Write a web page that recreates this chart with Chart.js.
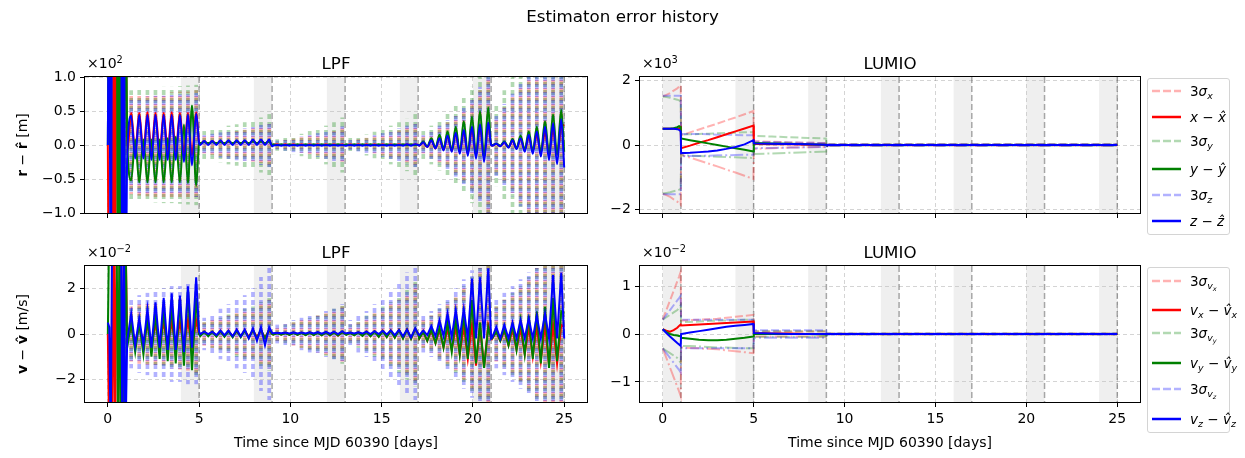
<!DOCTYPE html>
<html>
<head>
<meta charset="utf-8">
<script src="https://cdn.jsdelivr.net/npm/chart.js@4.4.1/dist/chart.umd.min.js"></script>
<style>
  body { margin: 0; width: 1245px; height: 458px; background: #fff; position: relative; overflow: hidden;
         font-family: 'DejaVu Sans', sans-serif; color: #000; }
  canvas { position: absolute; left: 0; top: 0; }
  .t { position: absolute; white-space: nowrap; z-index: 5; }
  .ttl { font-size: 16.7px; line-height: 20px; text-align: center; }
  .lab { font-size: 14px; line-height: 16px; text-align: center; }
  .off { font-size: 14px; line-height: 16px; }
  .off sup { font-size: 70%; vertical-align: 0.5em; line-height: 0; }
  .ylab { font-size: 14px; line-height: 20px; width: 200px; height: 20px; text-align: center; transform: rotate(-90deg); }
  .leg { position: absolute; z-index: 6; background: rgba(255,255,255,0.8); border: 1px solid #d4d4d4; border-radius: 3px; box-sizing: border-box; }
  .row { position: absolute; left: 0; height: 20px; display: flex; align-items: center; font-size: 13.5px; white-space: nowrap; }
  .row svg { margin-left: 4px; margin-right: 9px; }
  .row sub { font-size: 70%; vertical-align: -0.3em; line-height: 0; }
</style>
</head>
<body>
<canvas id="lpfPos" width="1245" height="458"></canvas>
<canvas id="lumPos" width="1245" height="458"></canvas>
<canvas id="lpfVel" width="1245" height="458"></canvas>
<canvas id="lumVel" width="1245" height="458"></canvas>

<div class="t ttl" style="left:0;width:1245px;top:6px">Estimaton error history</div>
<div class="t ttl" style="left:85px;width:502px;top:53px">LPF</div>
<div class="t ttl" style="left:640px;width:500px;top:53px">LUMIO</div>
<div class="t ttl" style="left:85px;width:502px;top:242px">LPF</div>
<div class="t ttl" style="left:640px;width:500px;top:242px">LUMIO</div>

<div class="t off" style="left:87px;top:55px">×10<sup>2</sup></div>
<div class="t off" style="left:642px;top:55px">×10<sup>3</sup></div>
<div class="t off" style="left:87px;top:244px">×10<sup>−2</sup></div>
<div class="t off" style="left:642px;top:244px">×10<sup>−2</sup></div>

<div class="t ylab" style="left:-78px;top:135px"><b>r</b> − <b>r̂</b> [m]</div>
<div class="t ylab" style="left:-78px;top:324px"><b>v</b> − <b>v̂</b> [m/s]</div>

<div class="t lab" style="left:85px;width:502px;top:434px">Time since MJD 60390 [days]</div>
<div class="t lab" style="left:640px;width:500px;top:434px">Time since MJD 60390 [days]</div>

<div class="leg" id="legPos" style="left:1147px;top:78px;width:83px;height:157px"></div>
<div class="leg" id="legVel" style="left:1147px;top:267px;width:83px;height:166px"></div>

<script>
// ---- 시간축 / 눈금 ----
const dayTicks = [0, 5, 10, 15, 20, 25];
const windowStart = [0, 4, 8, 12, 16, 20, 24];
const windowEnd = [1, 5, 9, 13, 17, 21, 25];

// ---- LPF (half-orbit samples) ----
const lpfTime = [
  0, 0.08, 0.16, 0.24, 0.32, 0.4, 0.48, 0.56, 0.64, 0.72, 0.8, 0.88, 0.96,
  1.06, 1.28, 1.5, 1.72, 1.95, 2.17, 2.39, 2.61, 2.84, 3.06, 3.28, 3.5, 3.72, 3.95, 4.17, 4.39, 4.61, 4.84, 5.0,
  5.06, 5.28, 5.5, 5.72, 5.95, 6.17, 6.39, 6.61, 6.84, 7.06, 7.28, 7.5, 7.72, 7.95, 8.17, 8.39, 8.61, 8.84, 9.0,
  9.06, 9.28, 9.5, 9.72, 9.95, 10.17, 10.39, 10.61, 10.84, 11.06, 11.28, 11.5, 11.72, 11.95, 12.17, 12.39, 12.61, 12.84, 13.0,
  13.06, 13.28, 13.5, 13.72, 13.95, 14.17, 14.39, 14.61, 14.84, 15.06, 15.28, 15.5, 15.72, 15.95, 16.17, 16.39, 16.61, 16.84, 17.0,
  17.06, 17.28, 17.5, 17.72, 17.95, 18.17, 18.39, 18.61, 18.84, 19.06, 19.28, 19.5, 19.72, 19.95, 20.17, 20.39, 20.61, 20.84, 21.0,
  21.06, 21.28, 21.5, 21.72, 21.95, 22.17, 22.39, 22.61, 22.84, 23.06, 23.28, 23.5, 23.72, 23.95, 24.17, 24.39, 24.61, 24.84, 25.0
];

// position error, x10^2 m
const lpfPosErrX = [
  0, -3, -3, -3, 3, -3, 3, 3, 3, -3, -3, 3, 3,
  -0.12, 0.47, -0.1, 0.47, -0.1, 0.48, -0.1, 0.47, -0.1, 0.47, -0.1, 0.48, -0.1, 0.47, -0.12, 0.47, -0.15, 0.48, 0.04,
  0.02, 0.05, 0.02, 0.05, 0.02, 0.05, 0.02, 0.05, 0.02, 0.05, 0.02, 0.05, 0.02, 0.06, 0.02, 0.06, 0.02, 0.06, -0.01,
  0, 0.01, 0, 0.01, 0, 0.01, 0, 0.01, 0, 0.01, 0, 0.01, 0, 0.01, 0, 0.01, 0, 0.01, 0,
  0, 0.01, 0, 0.01, 0, 0.01, 0, 0.01, 0, 0.01, 0, 0.01, 0, 0.01, 0, 0.01, 0, 0.01, 0,
  -0.01, 0.04, -0.03, 0.07, -0.05, 0.1, -0.07, 0.13, -0.09, 0.17, -0.11, 0.2, -0.13, 0.24, -0.15, 0.27, -0.18, 0.3, 0,
  -0.01, 0.02, -0.02, 0.04, -0.03, 0.06, -0.05, 0.09, -0.07, 0.12, -0.09, 0.15, -0.1, 0.18, -0.12, 0.22, -0.13, 0.25, 0.3
];
const lpfPosErrY = [
  0, 3, 3, 3, 3, 3, 3, -3, 3, -3, -3, -3, 3,
  0.1, -0.52, 0.08, -0.55, 0.08, -0.55, 0.08, -0.55, 0.08, -0.55, 0.1, -0.55, 0.12, -0.55, 0.3, -0.56, 0.58, -0.6, 0.02,
  0.03, 0.04, 0.03, 0.04, 0.03, 0.04, 0.03, 0.05, 0.03, 0.05, 0.03, 0.05, 0.03, 0.05, 0.03, 0.05, 0.03, 0.05, 0,
  0.01, 0, 0.01, 0, 0.01, 0, 0.01, 0, 0.01, 0, 0.01, 0, 0.01, 0, 0.01, 0, 0.01, 0, 0,
  0.01, 0, 0.01, 0, 0.01, 0, 0.01, 0, 0.01, 0, 0.01, 0, 0.01, 0, 0.01, 0, 0.01, 0, 0,
  0, 0.05, -0.02, 0.1, -0.04, 0.15, -0.06, 0.2, -0.08, 0.27, -0.1, 0.35, -0.12, 0.42, -0.15, 0.5, -0.18, 0.55, 0,
  0, 0.02, -0.01, 0.05, -0.03, 0.09, -0.05, 0.14, -0.07, 0.2, -0.09, 0.27, -0.11, 0.35, -0.13, 0.45, -0.15, 0.52, -0.1
];
const lpfPosErrZ = [
  0, 3, -3, 3, 3, 3, 3, 3, 3, 3, -3, 3, -3,
  -0.2, 0.43, -0.2, 0.44, -0.2, 0.44, -0.22, 0.44, -0.22, 0.44, -0.22, 0.44, -0.22, 0.44, -0.25, 0.45, -0.3, 0.46, 0.03,
  0, 0.06, 0, 0.06, 0, 0.07, 0, 0.07, 0, 0.07, 0, 0.07, 0, 0.08, 0, 0.08, 0, 0.08, -0.02,
  -0.01, 0, -0.01, 0, -0.01, 0, -0.01, 0, -0.01, 0, -0.01, 0, -0.01, 0, -0.01, 0, -0.01, 0, -0.01,
  -0.01, 0, -0.01, 0, -0.01, 0, -0.01, 0, -0.01, 0, -0.01, 0, -0.01, 0, -0.01, 0.01, -0.01, 0.01, 0,
  -0.01, 0.04, -0.03, 0.07, -0.05, 0.1, -0.08, 0.14, -0.1, 0.18, -0.13, 0.22, -0.16, 0.27, -0.2, 0.3, -0.25, 0.33, 0,
  -0.01, 0.02, -0.02, 0.04, -0.04, 0.07, -0.06, 0.1, -0.1, 0.15, -0.13, 0.2, -0.17, 0.27, -0.22, 0.32, -0.28, 0.38, -0.33
];

// velocity error, x10^-2 m/s
const lpfVelErrX = [
  0, -5, -5, -5, 5, -5, 5, 5, 5, -5, -5, 5, 5,
  -0.2, 0.3, -0.3, 0.3, -0.3, 0.4, -0.4, 0.4, -0.4, 0.5, -0.5, 0.5, -0.5, 0.5, -0.5, 0.6, -0.6, 0.6, 0,
  -0.05, 0.1, -0.05, 0.1, -0.08, 0.1, -0.08, 0.12, -0.1, 0.12, -0.1, 0.15, -0.12, 0.15, -0.12, 0.15, -0.15, 0.15, 0,
  -0.03, 0.05, -0.03, 0.05, -0.04, 0.06, -0.04, 0.06, -0.05, 0.07, -0.05, 0.07, -0.06, 0.08, -0.06, 0.08, -0.07, 0.08, 0,
  -0.03, 0.05, -0.05, 0.08, -0.07, 0.1, -0.09, 0.12, -0.11, 0.14, -0.13, 0.16, -0.15, 0.18, -0.18, 0.2, -0.2, 0.22, 0,
  -0.2, 0.1, -0.3, 0.15, -0.4, 0.2, -0.6, 0.25, -0.7, 0.3, -0.9, 0.35, -1.1, 0.4, -1.4, 0.4, -1.5, 0.4, 0,
  -0.2, 0.1, -0.3, 0.15, -0.5, 0.2, -0.7, 0.25, -0.9, 0.3, -1.0, 0.35, -1.2, 0.4, -1.4, 0.4, -1.3, 0.4, 0.3
];
const lpfVelErrY = [
  0, 5, 5, 5, 5, 5, 5, -5, 5, -5, -5, -5, 5,
  -0.6, 0.5, -0.8, 0.5, -0.9, 0.7, -1.0, 0.9, -1.1, 1.1, -1.2, 1.3, -1.3, 1.5, -1.4, 2.0, -1.6, 1.6, 0,
  -0.1, 0.1, -0.1, 0.1, -0.12, 0.12, -0.12, 0.12, -0.15, 0.15, -0.15, 0.15, -0.18, 0.18, -0.2, 0.2, -0.2, 0.2, 0,
  -0.03, 0.04, -0.03, 0.04, -0.04, 0.05, -0.04, 0.05, -0.05, 0.06, -0.05, 0.06, -0.06, 0.07, -0.06, 0.07, -0.07, 0.08, 0,
  -0.04, 0.05, -0.06, 0.07, -0.08, 0.09, -0.1, 0.11, -0.12, 0.13, -0.14, 0.15, -0.16, 0.18, -0.2, 0.2, -0.22, 0.24, 0,
  -0.2, 0.1, -0.3, 0.2, -0.4, 0.3, -0.6, 0.5, -0.8, 0.7, -0.9, 0.9, -1.1, 1.5, -1.3, 0.5, -1.5, 0.3, -0.2,
  -0.2, 0.1, -0.3, 0.2, -0.5, 0.4, -0.7, 0.6, -0.9, 0.8, -1.1, 1.0, -1.3, 1.2, -1.5, 1.6, -1.2, 1.0, 0.9
];
const lpfVelErrZ = [
  0.5, 0.3, -5, 5, 5, 5, 5, 5, 5, 5, -5, 5, -5,
  -0.3, 0.9, -0.5, 0.7, -0.5, 1.1, -0.6, 1.4, -0.6, 1.6, -0.7, 1.8, -0.7, 1.7, -0.8, 2.1, -0.6, 2.5, 0.1,
  0, 0.1, 0, 0.1, -0.05, 0.15, -0.05, 0.15, -0.1, 0.2, -0.1, 0.2, -0.2, 0.25, -0.3, 0.3, -0.5, 0.3, 0.05,
  0.03, 0.06, 0.03, 0.06, 0.02, 0.07, 0.02, 0.07, 0.02, 0.08, 0.02, 0.08, 0.01, 0.09, 0.01, 0.1, 0, 0.12, 0.03,
  0.03, 0.06, 0.02, 0.08, 0.02, 0.1, 0, 0.12, 0, 0.14, -0.02, 0.16, -0.05, 0.18, -0.1, 0.2, -0.15, 0.25, 0,
  -0.05, 0.15, -0.05, 0.35, -0.1, 0.6, -0.1, 0.9, -0.15, 1.05, -0.15, 1.1, -0.2, 2.45, -0.2, 2.5, -0.2, 2.9, -0.2,
  -0.15, 0.3, -0.2, 0.4, -0.2, 0.5, -0.2, 0.6, -0.2, 0.7, -0.2, 0.8, -0.2, 0.9, -0.2, 2.6, -0.2, 2.7, -0.2
];

// 3-sigma spikes, one per orbit
const lpfStrokeTime = [
  1.28, 1.72, 2.17, 2.61, 3.06, 3.5, 3.95, 4.39, 4.84,
  5.28, 5.72, 6.17, 6.61, 7.06, 7.5, 7.95, 8.39, 8.84,
  9.28, 9.72, 10.17, 10.61, 11.06, 11.5, 11.95, 12.39, 12.84,
  13.28, 13.72, 14.17, 14.61, 15.06, 15.5, 15.95, 16.39, 16.84,
  17.28, 17.72, 18.17, 18.61, 19.06, 19.5, 19.95, 20.39, 20.84,
  21.28, 21.72, 22.17, 22.61, 23.06, 23.5, 23.95, 24.39, 24.84
];
const lpfPosSigX = [
  0.72, 0.74, 0.75, 0.76, 0.76, 0.77, 0.78, 0.78, 0.8,
  0.12, 0.14, 0.16, 0.18, 0.2, 0.22, 0.24, 0.26, 0.3,
  0.05, 0.07, 0.09, 0.11, 0.13, 0.15, 0.17, 0.2, 0.24,
  0.06, 0.08, 0.1, 0.12, 0.15, 0.18, 0.21, 0.25, 0.3,
  0.12, 0.18, 0.25, 0.33, 0.42, 0.52, 0.65, 0.8, 1.0,
  0.4, 0.55, 0.7, 0.85, 1.0, 1.2, 1.4, 1.6, 1.8
];
const lpfPosSigY = [
  0.8, 0.82, 0.83, 0.84, 0.85, 0.85, 0.86, 0.87, 0.88,
  0.2, 0.22, 0.25, 0.28, 0.3, 0.33, 0.36, 0.4, 0.45,
  0.08, 0.1, 0.13, 0.16, 0.2, 0.24, 0.28, 0.33, 0.4,
  0.1, 0.12, 0.15, 0.19, 0.23, 0.28, 0.33, 0.38, 0.45,
  0.2, 0.28, 0.37, 0.47, 0.58, 0.7, 0.85, 1.0, 1.2,
  0.6, 0.8, 1.0, 1.2, 1.4, 1.6, 1.8, 2.0, 2.2
];
const lpfPosSigZ = [
  0.68, 0.7, 0.71, 0.72, 0.72, 0.73, 0.74, 0.74, 0.76,
  0.14, 0.16, 0.18, 0.2, 0.22, 0.24, 0.26, 0.29, 0.32,
  0.06, 0.08, 0.1, 0.12, 0.14, 0.17, 0.2, 0.23, 0.27,
  0.07, 0.09, 0.11, 0.14, 0.17, 0.2, 0.24, 0.28, 0.32,
  0.14, 0.2, 0.28, 0.36, 0.46, 0.57, 0.7, 0.85, 1.05,
  0.45, 0.6, 0.75, 0.9, 1.1, 1.3, 1.5, 1.7, 1.9
];
const lpfVelSigX = [
  1.2, 1.3, 1.35, 1.4, 1.45, 1.5, 1.55, 1.6, 1.7,
  0.5, 0.6, 0.7, 0.8, 0.9, 1.0, 1.1, 1.3, 1.5,
  0.3, 0.4, 0.5, 0.6, 0.7, 0.8, 0.9, 1.0, 1.2,
  0.4, 0.5, 0.7, 0.9, 1.1, 1.3, 1.5, 1.8, 2.2,
  0.6, 0.8, 1.0, 1.3, 1.6, 2.0, 2.4, 2.9, 3.3,
  1.2, 1.5, 1.8, 2.1, 2.5, 2.9, 3.3, 3.6, 4.0
];
const lpfVelSigY = [
  1.1, 1.2, 1.3, 1.35, 1.4, 1.45, 1.5, 1.55, 1.9,
  0.5, 0.6, 0.7, 0.85, 1.0, 1.1, 1.2, 1.4, 1.6,
  0.3, 0.4, 0.5, 0.6, 0.7, 0.8, 0.95, 1.1, 1.3,
  0.4, 0.6, 0.8, 1.0, 1.2, 1.4, 1.7, 2.0, 2.3,
  0.6, 0.8, 1.1, 1.4, 1.7, 2.1, 2.5, 2.9, 3.3,
  1.2, 1.5, 1.8, 2.1, 2.5, 2.9, 3.3, 3.6, 4.0
];
const lpfVelSigZ = [
  1.5, 1.7, 1.8, 1.9, 2.0, 2.1, 2.1, 2.2, 2.2,
  0.7, 0.9, 1.1, 1.3, 1.5, 1.7, 2.0, 2.5, 2.9,
  0.4, 0.5, 0.6, 0.7, 0.8, 0.9, 1.0, 1.1, 1.3,
  0.6, 0.8, 1.0, 1.3, 1.6, 1.9, 2.3, 2.7, 2.9,
  0.8, 1.0, 1.3, 1.6, 2.0, 2.4, 2.8, 3.2, 3.5,
  1.5, 1.8, 2.1, 2.4, 2.7, 3.0, 3.3, 3.6, 4.0
];

// ---- LUMIO ----
const lumTime = [0, 0.2, 0.4, 0.6, 0.8, 0.9, 0.99, 1.01, 1.5, 2, 2.5, 3, 3.5, 4, 4.5, 4.99, 5.01, 6, 7, 8, 8.99, 9.01, 13, 17, 21, 25];
// x10^3 m
const lumPosErrX = [0.5, 0.5, 0.5, 0.5, 0.5, 0.52, 0.55, -0.1, -0.02, 0.07, 0.15, 0.24, 0.33, 0.42, 0.51, 0.6, 0.03, 0.02, 0.02, 0.01, 0.01, 0, 0, 0, 0, 0];
const lumPosErrY = [0.5, 0.5, 0.5, 0.52, 0.55, 0.58, 0.55, 0.2, 0.15, 0.1, 0.05, 0, -0.05, -0.1, -0.15, -0.2, 0.06, 0.05, 0.04, 0.02, 0.01, 0, 0, 0, 0, 0];
const lumPosErrZ = [0.5, 0.5, 0.5, 0.5, 0.49, 0.47, 0.42, -0.25, -0.24, -0.22, -0.2, -0.17, -0.12, -0.06, 0.02, 0.15, 0.05, 0.04, 0.03, 0.02, 0.01, 0, 0, 0, 0, 0];
const lumPosSigX = [1.5, 1.55, 1.6, 1.68, 1.75, 1.8, 1.85, 0.3, 0.39, 0.48, 0.57, 0.66, 0.76, 0.85, 0.95, 1.05, 0.12, 0.1, 0.08, 0.07, 0.06, 0.02, 0.02, 0.02, 0.02, 0.02];
const lumPosSigY = [1.5, 1.48, 1.46, 1.43, 1.4, 1.38, 1.35, 0.32, 0.33, 0.34, 0.35, 0.36, 0.37, 0.38, 0.39, 0.4, 0.28, 0.26, 0.24, 0.22, 0.2, 0.02, 0.02, 0.02, 0.02, 0.02];
const lumPosSigZ = [1.52, 1.52, 1.52, 1.52, 1.52, 1.52, 1.52, 0.35, 0.34, 0.34, 0.33, 0.32, 0.32, 0.31, 0.3, 0.3, 0.1, 0.09, 0.08, 0.07, 0.06, 0.02, 0.02, 0.02, 0.02, 0.02];
// x10^-2 m/s
const lumVelErrX = [0.1, 0.07, 0.05, 0.08, 0.13, 0.17, 0.2, 0.18, 0.19, 0.2, 0.21, 0.22, 0.23, 0.24, 0.25, 0.26, 0.02, 0.01, 0.01, 0, 0, 0, 0, 0, 0, 0];
const lumVelErrY = [0.1, 0.04, 0, -0.02, -0.03, -0.04, -0.05, -0.08, -0.1, -0.12, -0.13, -0.13, -0.12, -0.1, -0.08, -0.05, 0, 0, 0, 0, -0.01, 0, 0, 0, 0, 0];
const lumVelErrZ = [0.1, 0.02, -0.05, -0.12, -0.19, -0.22, -0.25, 0, 0.03, 0.06, 0.09, 0.12, 0.15, 0.17, 0.19, 0.21, 0.02, 0.01, 0, 0, 0, 0, 0, 0, 0, 0];
const lumVelSigX = [0.3, 0.5, 0.7, 0.9, 1.1, 1.2, 1.3, 0.28, 0.29, 0.3, 0.31, 0.32, 0.34, 0.36, 0.38, 0.4, 0.05, 0.05, 0.05, 0.05, 0.05, 0.01, 0.01, 0.01, 0.01, 0.01];
const lumVelSigY = [0.3, 0.35, 0.4, 0.45, 0.5, 0.55, 0.6, 0.25, 0.25, 0.26, 0.27, 0.28, 0.28, 0.29, 0.3, 0.3, 0.06, 0.06, 0.06, 0.06, 0.06, 0.01, 0.01, 0.01, 0.01, 0.01];
const lumVelSigZ = [0.3, 0.4, 0.5, 0.6, 0.7, 0.75, 0.8, 0.3, 0.3, 0.3, 0.3, 0.3, 0.3, 0.3, 0.3, 0.3, 0.08, 0.08, 0.08, 0.08, 0.08, 0.01, 0.01, 0.01, 0.01, 0.01];

// ---- 스타일 ----
const RED = '#ff0000', GREEN = '#008000', BLUE = '#0000ff';
const FAINT = { [RED]: 'rgba(255,0,0,0.3)', [GREEN]: 'rgba(0,128,0,0.3)', [BLUE]: 'rgba(0,0,255,0.3)' };
const SPIKE_PHASE = { [RED]: 0, [GREEN]: 2, [BLUE]: 4 };
const DASH = [8, 3], DASHDOT = [13, 3, 2, 3];

Chart.defaults.font.family = "'DejaVu Sans', sans-serif";
Chart.defaults.font.size = 14;
Chart.defaults.color = '#000';

// dashed fill for the thin sigma spikes; each colour gets its own dash phase
function dashFill(color, phase) {
  const c = document.createElement('canvas');
  c.width = 1; c.height = 8;
  const g = c.getContext('2d');
  g.fillStyle = color;
  for (let k = 0; k < 5; k++) g.fillRect(0, (phase + k) % 8, 1, 1);
  return g.createPattern(c, 'repeat');
}

const pts = (t, v) => t.map((x, i) => ({ x, y: v[i] }));
const neg = v => v.map(s => -s);

const errLine = (t, v, color, smooth) => ({
  type: 'line', data: pts(t, v), borderColor: color, borderWidth: 2,
  pointRadius: 0, fill: false, cubicInterpolationMode: smooth ? 'monotone' : 'default'
});
const sigLine = (t, v, color, dash) => ({
  type: 'line', data: pts(t, v), borderColor: FAINT[color], borderWidth: 2,
  borderDash: dash, pointRadius: 0, fill: false
});
const spikes = (t, s, color) => ({
  type: 'bar', data: t.map((x, i) => ({ x, y: [-s[i], s[i]] })),
  backgroundColor: dashFill(FAINT[color], SPIKE_PHASE[color]), barThickness: 3, grouped: false, clip: 0
});

// 음영 구간 + 점선, 테두리
const windowPlugin = {
  id: 'windows',
  beforeDatasetsDraw(chart) {
    const { ctx, chartArea: a, scales: { x } } = chart;
    ctx.save();
    ctx.beginPath();
    ctx.rect(a.left, a.top, a.width, a.height);
    ctx.clip();
    ctx.fillStyle = 'rgba(190,190,190,0.25)';
    windowStart.forEach((s, i) => {
      const x0 = x.getPixelForValue(s), x1 = x.getPixelForValue(windowEnd[i]);
      ctx.fillRect(x0, a.top, x1 - x0, a.height);
    });
    ctx.strokeStyle = 'rgba(100,100,100,0.55)';
    ctx.lineWidth = 1.5;
    ctx.setLineDash([6, 3]);
    windowEnd.forEach(e => {
      const px = x.getPixelForValue(e);
      ctx.beginPath();
      ctx.moveTo(px, a.top);
      ctx.lineTo(px, a.bottom);
      ctx.stroke();
    });
    ctx.restore();
  },
  afterDraw(chart) {
    const { ctx, chartArea: a } = chart;
    ctx.save();
    ctx.strokeStyle = '#000';
    ctx.lineWidth = 1;
    ctx.strokeRect(Math.round(a.left) - 0.5, Math.round(a.top) - 0.5, Math.round(a.width) + 1, Math.round(a.height) + 1);
    ctx.restore();
  }
};

const minus = s => String(s).replace('-', '\u2212');

function makePanel(id, box, yMin, yMax, yTicks, decimals, showX, datasets) {
  const Y_W = 60, X_H = 30;
  const gridStyle = { color: 'rgba(0,0,0,0.17)', lineWidth: 1, tickColor: '#000', tickLength: 5, tickWidth: 1, offset: false };
  return new Chart(document.getElementById(id), {
    type: 'line',
    data: { datasets },
    plugins: [windowPlugin],
    options: {
      responsive: false,
      animation: false,
      events: [],
      layout: { padding: { left: box.left - Y_W, right: 1245 - box.right, top: box.top, bottom: 458 - box.bottom - X_H } },
      plugins: { legend: { display: false }, tooltip: { enabled: false } },
      scales: {
        x: {
          type: 'linear', min: -1.25, max: 26.25, offset: false,
          afterBuildTicks: s => { s.ticks = dayTicks.map(v => ({ value: v })); },
          afterFit: s => { s.height = X_H; s.paddingLeft = 0; s.paddingRight = 0; },
          grid: gridStyle,
          border: { display: false, dash: [4, 3] },
          ticks: { display: showX, padding: 4, autoSkip: false, maxRotation: 0, callback: v => String(v) }
        },
        y: {
          type: 'linear', min: yMin, max: yMax,
          afterBuildTicks: s => { s.ticks = yTicks.map(v => ({ value: v })); },
          afterFit: s => { s.width = Y_W; s.paddingTop = 0; s.paddingBottom = 0; },
          grid: gridStyle,
          border: { display: false, dash: [4, 3] },
          ticks: { padding: 4, autoSkip: false, callback: v => minus(v.toFixed(decimals)) }
        }
      }
    }
  });
}

const BOX = {
  lpfPos: { left: 85, right: 587, top: 77, bottom: 213 },
  lumPos: { left: 640, right: 1140, top: 77, bottom: 213 },
  lpfVel: { left: 85, right: 587, top: 266, bottom: 402 },
  lumVel: { left: 640, right: 1140, top: 266, bottom: 402 }
};

makePanel('lpfPos', BOX.lpfPos, -1, 1, [-1, -0.5, 0, 0.5, 1], 1, false, [
  errLine(lpfTime, lpfPosErrZ, BLUE, true),
  errLine(lpfTime, lpfPosErrY, GREEN, true),
  errLine(lpfTime, lpfPosErrX, RED, true),
  spikes(lpfStrokeTime, lpfPosSigZ, BLUE),
  spikes(lpfStrokeTime, lpfPosSigY, GREEN),
  spikes(lpfStrokeTime, lpfPosSigX, RED)
]);

makePanel('lpfVel', BOX.lpfVel, -3, 3, [-2, 0, 2], 0, true, [
  errLine(lpfTime, lpfVelErrZ, BLUE, false),
  errLine(lpfTime, lpfVelErrY, GREEN, false),
  errLine(lpfTime, lpfVelErrX, RED, false),
  spikes(lpfStrokeTime, lpfVelSigZ, BLUE),
  spikes(lpfStrokeTime, lpfVelSigY, GREEN),
  spikes(lpfStrokeTime, lpfVelSigX, RED)
]);

makePanel('lumPos', BOX.lumPos, -2.1, 2.1, [-2, 0, 2], 0, false, [
  errLine(lumTime, lumPosErrZ, BLUE, false),
  errLine(lumTime, lumPosErrY, GREEN, false),
  errLine(lumTime, lumPosErrX, RED, false),
  sigLine(lumTime, lumPosSigZ, BLUE, DASH), sigLine(lumTime, neg(lumPosSigZ), BLUE, DASHDOT),
  sigLine(lumTime, lumPosSigY, GREEN, DASH), sigLine(lumTime, neg(lumPosSigY), GREEN, DASHDOT),
  sigLine(lumTime, lumPosSigX, RED, DASH), sigLine(lumTime, neg(lumPosSigX), RED, DASHDOT)
]);

makePanel('lumVel', BOX.lumVel, -1.42, 1.42, [-1, 0, 1], 0, true, [
  errLine(lumTime, lumVelErrZ, BLUE, false),
  errLine(lumTime, lumVelErrY, GREEN, false),
  errLine(lumTime, lumVelErrX, RED, false),
  sigLine(lumTime, lumVelSigZ, BLUE, DASH), sigLine(lumTime, neg(lumVelSigZ), BLUE, DASHDOT),
  sigLine(lumTime, lumVelSigY, GREEN, DASH), sigLine(lumTime, neg(lumVelSigY), GREEN, DASHDOT),
  sigLine(lumTime, lumVelSigX, RED, DASH), sigLine(lumTime, neg(lumVelSigX), RED, DASHDOT)
]);

// ---- 범례 (HTML) ----
const posLegend = [
  { label: '3<i>σ<sub>x</sub></i>', color: RED, sigma: true },
  { label: '<i>x</i> − <i>x̂</i>', color: RED },
  { label: '3<i>σ<sub>y</sub></i>', color: GREEN, sigma: true },
  { label: '<i>y</i> − <i>ŷ</i>', color: GREEN },
  { label: '3<i>σ<sub>z</sub></i>', color: BLUE, sigma: true },
  { label: '<i>z</i> − <i>ẑ</i>', color: BLUE }
];
const velLegend = [
  { label: '3<i>σ<sub>v<sub>x</sub></sub></i>', color: RED, sigma: true },
  { label: '<i>v<sub>x</sub></i> − <i>v̂<sub>x</sub></i>', color: RED },
  { label: '3<i>σ<sub>v<sub>y</sub></sub></i>', color: GREEN, sigma: true },
  { label: '<i>v<sub>y</sub></i> − <i>v̂<sub>y</sub></i>', color: GREEN },
  { label: '3<i>σ<sub>v<sub>z</sub></sub></i>', color: BLUE, sigma: true },
  { label: '<i>v<sub>z</sub></i> − <i>v̂<sub>z</sub></i>', color: BLUE }
];

function fillLegend(id, items, rowCenters) {
  const box = document.getElementById(id);
  items.forEach((it, i) => {
    const row = document.createElement('div');
    row.className = 'row';
    row.style.top = (rowCenters[i] - 10) + 'px';
    const stroke = it.sigma ? FAINT[it.color] : it.color;
    const dash = it.sigma ? ' stroke-dasharray="8,3"' : '';
    row.innerHTML = '<svg width="29" height="6"><line x1="0" y1="3" x2="29" y2="3" stroke="' + stroke +
      '" stroke-width="2.5"' + dash + '/></svg><span>' + it.label + '</span>';
    box.appendChild(row);
  });
}
fillLegend('legPos', posLegend, [12, 38, 62, 90, 116, 142]);
fillLegend('legVel', velLegend, [13, 42, 65, 95, 121, 151]);
</script>
</body>
</html>
